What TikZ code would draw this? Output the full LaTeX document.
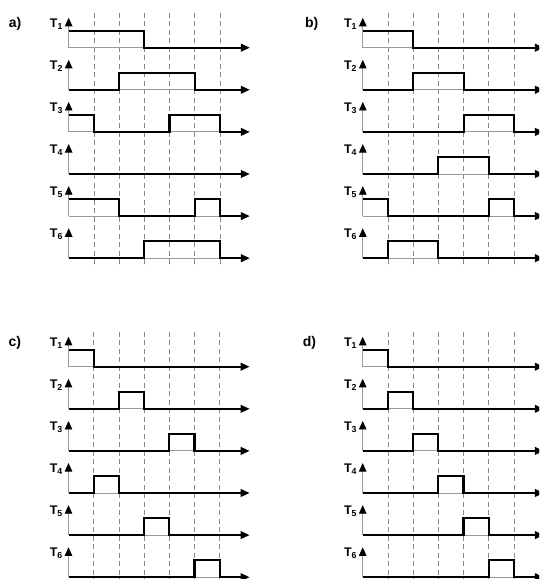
\documentclass[tikz,border=0pt]{standalone}
\usepackage{fontspec}
\setmainfont{Liberation Sans}
\usetikzlibrary{arrows.meta}
\definecolor{axgray}{HTML}{9A9A9A}
\definecolor{dashgray}{HTML}{8A8A8A}
\tikzset{
  sig/.style={line width=2.1pt, black, line join=miter, -{Triangle[length=9pt,width=7.5pt]}},
  axisln/.style={line width=0.8pt, axgray, -{Triangle[length=8.5pt,width=7.5pt,color=black]}},
  baseln/.style={line width=0.8pt, axgray},
  gridln/.style={line width=0.8pt, dashgray, dash pattern=on 5pt off 3.5pt},
  tlab/.style={font=\bfseries\fontsize{12.5}{14}\selectfont, anchor=base east, inner sep=0pt},
  plab/.style={font=\bfseries\fontsize{14}{16}\selectfont, anchor=base west, inner sep=0pt},
}
% #1 panel letter, #2 row index 0..5, #3 label number, #4 signal path
\newcommand\sigrow[4]{%
  \begin{scope}[yshift=-#2*42.1pt]
    \draw[baseln] (0,0) -- (6,0);
    \draw[axisln] (0,0) -- (0,1.76);
    \node[tlab] (#1T#3) at ([xshift=-5.5pt,yshift=20.5pt]0,0) {T\textsubscript{#3}};
    \draw[sig] #4 -- (7.19,0);
  \end{scope}}
\newcommand\gridlines{%
  \foreach \k in {1,...,6} {
    \draw[gridln] ([yshift=35pt]\k,0) -- ([yshift=-220pt]\k,0);
  }}
\begin{document}
\begin{tikzpicture}
\useasboundingbox (0,0) rectangle (539pt,579pt);
\clip (0,0) rectangle (539pt,579pt);
\fill[white] (0,0) rectangle (539pt,579pt);

% panel a
\begin{scope}[shift={(68.7pt,531.3pt)}, x=25.2pt, y=17pt]
  \node[plab] (la) at ([xshift=-60pt,yshift=20pt]0,0) {a)};
  \gridlines
  \sigrow{a}{0}{1}{(0,1) -| (3,0)}
  \sigrow{a}{1}{2}{(0,0) -| (2,1) -| (5,0)}
  \sigrow{a}{2}{3}{(0,1) -| (1,0) -| (4,1) -| (6,0)}
  \sigrow{a}{3}{4}{(0,0)}
  \sigrow{a}{4}{5}{(0,1) -| (2,0) -| (5,1) -| (6,0)}
  \sigrow{a}{5}{6}{(0,0) -| (3,1) -| (6,0)}
\end{scope}

% panel b
\begin{scope}[shift={(362.8pt,531.3pt)}, x=25.2pt, y=17pt]
  \node[plab] (lb) at ([xshift=-58pt,yshift=20pt]0,0) {b)};
  \gridlines
  \sigrow{b}{0}{1}{(0,1) -| (2,0)}
  \sigrow{b}{1}{2}{(0,0) -| (2,1) -| (4,0)}
  \sigrow{b}{2}{3}{(0,0) -| (4,1) -| (6,0)}
  \sigrow{b}{3}{4}{(0,0) -| (3,1) -| (5,0)}
  \sigrow{b}{4}{5}{(0,1) -| (1,0) -| (5,1) -| (6,0)}
  \sigrow{b}{5}{6}{(0,0) -| (1,1) -| (3,0)}
\end{scope}

% panel c
\begin{scope}[shift={(68.5pt,212.3pt)}, x=25.2pt, y=17pt]
  \node[plab] (lc) at ([xshift=-60pt,yshift=20pt]0,0) {c)};
  \gridlines
  \sigrow{c}{0}{1}{(0,1) -| (1,0)}
  \sigrow{c}{1}{2}{(0,0) -| (2,1) -| (3,0)}
  \sigrow{c}{2}{3}{(0,0) -| (4,1) -| (5,0)}
  \sigrow{c}{3}{4}{(0,0) -| (1,1) -| (2,0)}
  \sigrow{c}{4}{5}{(0,0) -| (3,1) -| (4,0)}
  \sigrow{c}{5}{6}{(0,0) -| (5,1) -| (6,0)}
\end{scope}

% panel d
\begin{scope}[shift={(362.7pt,212.3pt)}, x=25.2pt, y=17pt]
  \node[plab] (ld) at ([xshift=-60pt,yshift=20pt]0,0) {d)};
  \gridlines
  \sigrow{d}{0}{1}{(0,1) -| (1,0)}
  \sigrow{d}{1}{2}{(0,0) -| (1,1) -| (2,0)}
  \sigrow{d}{2}{3}{(0,0) -| (2,1) -| (3,0)}
  \sigrow{d}{3}{4}{(0,0) -| (3,1) -| (4,0)}
  \sigrow{d}{4}{5}{(0,0) -| (4,1) -| (5,0)}
  \sigrow{d}{5}{6}{(0,0) -| (5,1) -| (6,0)}
\end{scope}
\end{tikzpicture}
\end{document}
